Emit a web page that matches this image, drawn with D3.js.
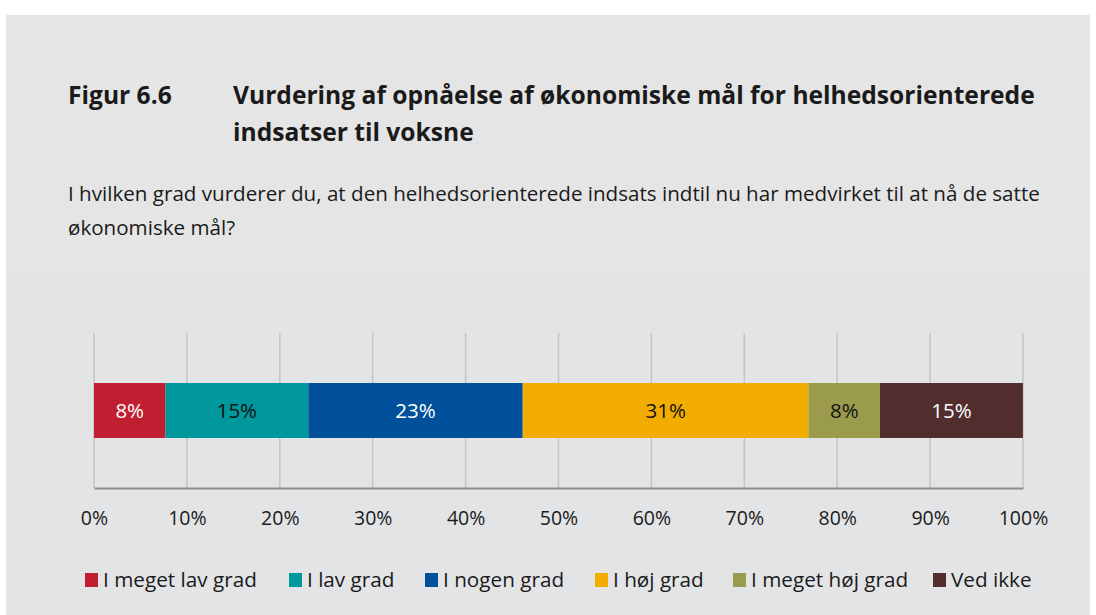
<!DOCTYPE html>
<html>
<head>
<meta charset="utf-8">
<script src="https://cdn.jsdelivr.net/npm/d3@7"></script>
<style>
  body { margin: 0; background: #fff; }
  text { font-family: "Open Sans", "Noto Sans", sans-serif; fill: #1a1a1a; }
</style>
</head>
<body>
<div class="chart"></div>
<script>
// data
var categories = ["I meget lav grad", "I lav grad", "I nogen grad", "I høj grad", "I meget høj grad", "Ved ikke"];
var values = [7.69, 15.38, 23.08, 30.77, 7.69, 15.38];
var labels = ["8%", "15%", "23%", "31%", "8%", "15%"];
var colors = ["#c01f32", "#00979d", "#00509b", "#f2ad00", "#9b9b4d", "#512e2d"];
var labelColors = ["#fff", "#111", "#fff", "#111", "#111", "#fff"];
var ticks = [0, 10, 20, 30, 40, 50, 60, 70, 80, 90, 100];

var width = 1096, height = 615;

var svg = d3.select(".chart").append("svg")
            .attr("width", width)
            .attr("height", height);

// panel background
svg.append("rect").attr("x", 6).attr("y", 15).attr("width", 1084).attr("height", 600).attr("fill", "#e5e5e5");
svg.append("rect").attr("x", 6).attr("y", 270).attr("width", 1084).attr("height", 345).attr("fill", "#e3e4e6");

// titles
svg.append("text").attr("x", 68).attr("y", 104)
   .style("font-size", "24.6px").style("font-weight", "bold").text("Figur 6.6");
var title = svg.append("text").style("font-size", "24.6px").style("font-weight", "bold");
title.append("tspan").attr("x", 233).attr("y", 104).text("Vurdering af opnåelse af økonomiske mål for helhedsorienterede");
title.append("tspan").attr("x", 233).attr("y", 141).text("indsatser til voksne");

var sub = svg.append("text").style("font-size", "20.6px");
sub.append("tspan").attr("x", 68).attr("y", 201).text("I hvilken grad vurderer du, at den helhedsorienterede indsats indtil nu har medvirket til at nå de satte");
sub.append("tspan").attr("x", 68).attr("y", 235).text("økonomiske mål?");

// scales
var x = d3.scaleLinear().domain([0, 100]).range([94, 1023]);
var gridTop = 333, gridBottom = 488;
var y = d3.scaleBand().domain(["bar"]).range([gridTop, gridBottom]).paddingInner(0).paddingOuter(0.91);

// grid
svg.selectAll("line.grid").data(ticks).enter()
   .append("line").attr("class", "grid")
   .attr("x1", function(d){ return x(d); })
   .attr("x2", function(d){ return x(d); })
   .attr("y1", gridTop).attr("y2", gridBottom)
   .attr("stroke", "#c4c4c4").attr("stroke-width", 1.5);

// axis
var axis = svg.append("g").attr("transform", "translate(0," + gridBottom + ")")
   .call(d3.axisBottom(x).tickValues(ticks).tickSize(0).tickPadding(23)
           .tickFormat(function(d){ return d + "%"; }));
axis.select(".domain").attr("stroke", "#8c8c8c").attr("stroke-width", 2);
axis.selectAll("text").style("font-size", "19.5px").attr("fill", "#1a1a1a")
    .style("font-family", "'Open Sans', 'Noto Sans', sans-serif");

// stacked bar
var starts = [];
values.reduce(function(acc, v){ starts.push(acc); return acc + v; }, 0);

var segs = svg.selectAll("g.seg").data(values).enter().append("g").attr("class", "seg");
segs.append("rect")
    .attr("x", function(d, i){ return x(starts[i]); })
    .attr("width", function(d, i){ return x(starts[i] + d) - x(starts[i]); })
    .attr("y", y("bar")).attr("height", y.bandwidth())
    .attr("fill", function(d, i){ return colors[i]; });
segs.append("text")
    .attr("x", function(d, i){ return x(starts[i] + d / 2); })
    .attr("y", y("bar") + y.bandwidth() / 2)
    .attr("dy", "0.35em").attr("text-anchor", "middle")
    .style("font-size", "20.5px")
    .style("fill", function(d, i){ return labelColors[i]; })
    .text(function(d, i){ return labels[i]; });

// legend
var legendX = [85, 289, 425, 595, 733, 933];
var leg = svg.selectAll("g.leg").data(categories).enter().append("g").attr("class", "leg")
    .attr("transform", function(d, i){ return "translate(" + legendX[i] + ",573)"; });
leg.append("rect").attr("width", 13).attr("height", 14)
   .attr("fill", function(d, i){ return colors[i]; });
leg.append("text").attr("x", 18).attr("y", 7).attr("dy", "0.36em")
   .style("font-size", "20.7px").text(function(d){ return d; });
</script>
</body>
</html>
